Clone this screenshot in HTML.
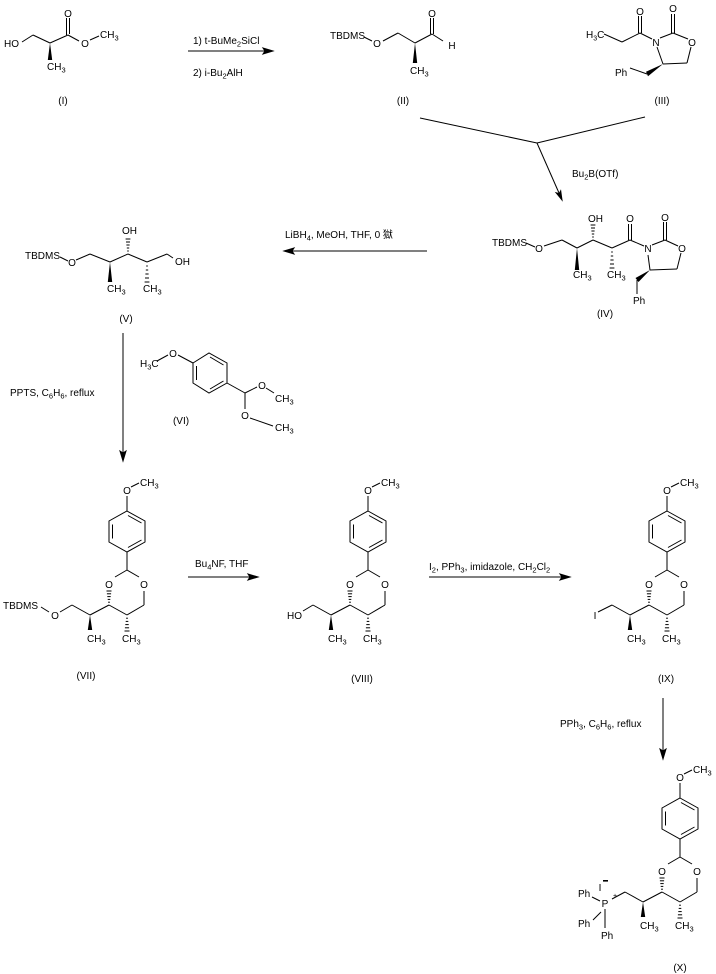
<!DOCTYPE html>
<html><head><meta charset="utf-8"><style>
html,body{margin:0;padding:0;background:#fff;}
svg{display:block;}
text{font-family:"Liberation Sans","Noto Sans CJK SC",sans-serif;font-size:10px;fill:#000;}
.s{font-size:7.5px;}
</style></head><body>
<svg width="716" height="974" viewBox="0 0 716 974" xmlns="http://www.w3.org/2000/svg">
<defs>
<g id="diox" stroke="#000" stroke-width="1" fill="none">
<line x1="0" y1="-15" x2="0" y2="0"/>
<line x1="4" y1="-24" x2="12" y2="-28"/>
<polygon points="0,0 18,10 18,31 0,41 -18,31 -18,10"/>
<line x1="1" y1="4.5" x2="14.5" y2="12"/>
<line x1="14.5" y1="29" x2="1" y2="36.5"/>
<line x1="-14.5" y1="13.5" x2="-14.5" y2="27.5"/>
<line x1="0" y1="41" x2="0" y2="59"/>
<line x1="0" y1="59" x2="-12" y2="66"/>
<line x1="0" y1="59" x2="12" y2="66"/>
<line x1="-18.9" y1="91.2" x2="-17.1" y2="91.2"/>
<line x1="-19.3" y1="88.4" x2="-16.7" y2="88.4"/>
<line x1="-19.7" y1="85.6" x2="-16.3" y2="85.6"/>
<line x1="-20.1" y1="82.8" x2="-15.9" y2="82.8"/>
<line x1="-20.5" y1="80" x2="-15.5" y2="80"/>
<line x1="-18" y1="94" x2="0" y2="104"/>
<line x1="0" y1="104" x2="17" y2="94"/>
<line x1="17" y1="94" x2="17" y2="80"/>
<line x1="-0.9" y1="107.2" x2="0.9" y2="107.2"/>
<line x1="-1.3" y1="110.4" x2="1.3" y2="110.4"/>
<line x1="-1.7" y1="113.6" x2="1.7" y2="113.6"/>
<line x1="-2.1" y1="116.8" x2="2.1" y2="116.8"/>
<line x1="-2.5" y1="120" x2="2.5" y2="120"/>
<line x1="-18" y1="94" x2="-37" y2="104"/>
<line x1="-37" y1="104" x2="-55" y2="94"/>
<polygon points="-37,104 -39.2,119 -34.8,119" fill="#000" stroke="none"/>
<text x="0" y="-17" text-anchor="middle" stroke="none">O</text>
<text x="13" y="-25" stroke="none">CH<tspan class="s" dy="2.5">3</tspan></text>
<text x="-18" y="77" text-anchor="middle" stroke="none">O</text>
<text x="17" y="77" text-anchor="middle" stroke="none">O</text>
<text x="-5" y="131" stroke="none">CH<tspan class="s" dy="2.5">3</tspan></text>
<text x="-40" y="131" stroke="none">CH<tspan class="s" dy="2.5">3</tspan></text>
</g>
</defs>

<g stroke="#000" stroke-width="1" fill="none">
<!-- Compound I -->
<line x1="22" y1="42" x2="33" y2="35"/>
<line x1="33" y1="35" x2="50" y2="43"/>
<line x1="50" y1="43" x2="68" y2="35"/>
<line x1="66.5" y1="35" x2="66.5" y2="18"/>
<line x1="69.5" y1="34" x2="69.5" y2="18"/>
<line x1="68" y1="35" x2="79" y2="41"/>
<line x1="90" y1="40" x2="99" y2="36"/>
<polygon points="50,43 47.8,60 52.2,60" fill="#000" stroke="none"/>

<!-- Arrow 1 -->
<line x1="188" y1="51" x2="266" y2="51"/>
<polygon points="273,51 263,48 265,51 263,54" fill="#000"/>

<!-- Compound II -->
<line x1="364" y1="37" x2="372" y2="41"/>
<line x1="383" y1="41" x2="398" y2="33"/>
<line x1="398" y1="33" x2="415" y2="43"/>
<line x1="415" y1="43" x2="432" y2="34"/>
<line x1="430.5" y1="34" x2="430.5" y2="18"/>
<line x1="433.5" y1="34" x2="433.5" y2="18"/>
<line x1="432" y1="34" x2="443" y2="41"/>
<polygon points="415,43 412.8,63 417.2,63" fill="#000" stroke="none"/>

<!-- Compound III -->
<line x1="604" y1="34" x2="622" y2="42"/>
<line x1="622" y1="42" x2="640" y2="33"/>
<line x1="638.5" y1="33" x2="638.5" y2="16"/>
<line x1="641.5" y1="33" x2="641.5" y2="16"/>
<line x1="640" y1="33" x2="652" y2="39"/>
<line x1="660" y1="38" x2="673" y2="33"/>
<line x1="671.5" y1="33" x2="671.5" y2="14"/>
<line x1="674.5" y1="33" x2="674.5" y2="14"/>
<line x1="673" y1="33" x2="688" y2="39"/>
<line x1="691" y1="47" x2="687" y2="63"/>
<line x1="687" y1="63" x2="663" y2="64"/>
<line x1="663" y1="64" x2="657" y2="47"/>
<polygon points="663,64 646,71.8 648,76.2" fill="#000" stroke="none"/>
<line x1="647" y1="74" x2="630" y2="68"/>

<!-- merge lines + arrow -->
<line x1="420" y1="118" x2="537" y2="143"/>
<line x1="645" y1="117" x2="537" y2="143"/>
<line x1="537" y1="143" x2="559" y2="193"/>
<polygon points="562,200 560.7,190.8 559.2,193.6 556.1,192.8" fill="#000"/>

<!-- Compound IV -->
<line x1="526" y1="243" x2="535" y2="247"/>
<line x1="544" y1="246" x2="562" y2="240"/>
<line x1="562" y1="240" x2="577" y2="248"/>
<polygon points="577,248 574.8,270 579.2,270" fill="#000" stroke="none"/>
<line x1="577" y1="248" x2="593" y2="240"/>
<line x1="592.2" y1="237" x2="593.8" y2="237"/>
<line x1="591.8" y1="234" x2="594.2" y2="234"/>
<line x1="591.4" y1="231" x2="594.6" y2="231"/>
<line x1="591" y1="228" x2="595" y2="228"/>
<line x1="590.6" y1="225" x2="595.4" y2="225"/>
<line x1="593" y1="240" x2="612" y2="248"/>
<line x1="611.2" y1="252" x2="612.8" y2="252"/>
<line x1="610.8" y1="256" x2="613.2" y2="256"/>
<line x1="610.4" y1="260" x2="613.6" y2="260"/>
<line x1="610" y1="264" x2="614" y2="264"/>
<line x1="609.6" y1="268" x2="614.4" y2="268"/>
<line x1="612" y1="248" x2="630" y2="240"/>
<line x1="628.5" y1="240" x2="628.5" y2="224"/>
<line x1="631.5" y1="240" x2="631.5" y2="224"/>
<line x1="630" y1="240" x2="644" y2="246"/>
<line x1="652" y1="245" x2="665" y2="240"/>
<line x1="663.5" y1="240" x2="663.5" y2="222"/>
<line x1="666.5" y1="240" x2="666.5" y2="222"/>
<line x1="665" y1="240" x2="678" y2="246"/>
<line x1="681" y1="253" x2="677" y2="269"/>
<line x1="677" y1="269" x2="650" y2="270"/>
<line x1="650" y1="270" x2="648" y2="255"/>
<polygon points="650,270 635.5,278 638.5,282" fill="#000" stroke="none"/>
<line x1="637" y1="280" x2="637" y2="294"/>

<!-- Arrow IV -> V -->
<line x1="291" y1="251" x2="427" y2="251"/>
<polygon points="284,251 294,248 292,251 294,254" fill="#000"/>

<!-- Compound V -->
<line x1="60" y1="257" x2="68" y2="261"/>
<line x1="76" y1="260" x2="90" y2="254"/>
<line x1="90" y1="254" x2="110" y2="262"/>
<polygon points="110,262 107.8,282 112.2,282" fill="#000" stroke="none"/>
<line x1="110" y1="262" x2="128" y2="254"/>
<line x1="127.2" y1="251" x2="128.8" y2="251"/>
<line x1="126.8" y1="248" x2="129.2" y2="248"/>
<line x1="126.4" y1="245" x2="129.6" y2="245"/>
<line x1="126" y1="242" x2="130" y2="242"/>
<line x1="125.6" y1="239" x2="130.4" y2="239"/>
<line x1="128" y1="254" x2="147" y2="262"/>
<line x1="146.2" y1="266" x2="147.8" y2="266"/>
<line x1="145.8" y1="270" x2="148.2" y2="270"/>
<line x1="145.4" y1="274" x2="148.6" y2="274"/>
<line x1="145" y1="278" x2="149" y2="278"/>
<line x1="144.6" y1="282" x2="149.4" y2="282"/>
<line x1="147" y1="262" x2="167" y2="254"/>
<line x1="167" y1="254" x2="173" y2="258"/>

<!-- Arrow V -> VII -->
<line x1="123" y1="333" x2="123" y2="453"/>
<polygon points="123,461 120,451 123,453 126,451" fill="#000"/>

<!-- Compound VI -->
<line x1="157" y1="361" x2="168" y2="355"/>
<line x1="178" y1="355" x2="193" y2="363"/>
<polygon points="193,363 209,353 227,363 227,383 209,393 193,383"/>
<line x1="196.5" y1="366" x2="196.5" y2="380"/>
<line x1="210" y1="357" x2="223.5" y2="365"/>
<line x1="223.5" y1="381" x2="210" y2="389"/>
<line x1="227" y1="383" x2="245" y2="393"/>
<line x1="245" y1="393" x2="257" y2="387"/>
<line x1="266" y1="388" x2="274" y2="393"/>
<line x1="245" y1="393" x2="245" y2="409"/>
<line x1="250" y1="418" x2="273" y2="426"/>

<!-- Arrow VII -> VIII -->
<line x1="188" y1="577" x2="251" y2="577"/>
<polygon points="258,577 248,574 250,577 248,580" fill="#000"/>

<!-- Arrow VIII -> IX -->
<line x1="429" y1="577" x2="563" y2="577"/>
<polygon points="570,577 560,574 562,577 560,580" fill="#000"/>

<!-- Arrow IX -> X -->
<line x1="663" y1="698" x2="663" y2="751"/>
<polygon points="663,759 660,749 663,751 666,749" fill="#000"/>

<!-- substituents on dioxanes -->
<line x1="72" y1="605" x2="60" y2="612"/>
<line x1="49" y1="612" x2="41" y2="607"/>
<line x1="313" y1="605" x2="303" y2="611"/>
<line x1="612" y1="605" x2="598" y2="612"/>
<line x1="625" y1="892" x2="612" y2="899"/>
<line x1="592" y1="897" x2="600" y2="901"/>
<line x1="593" y1="920" x2="601" y2="912"/>
<line x1="605" y1="909" x2="605" y2="928"/>
</g>
<rect x="603" y="880" width="5" height="1.6" fill="#000"/>

<use href="#diox" x="127" y="511"/>
<use href="#diox" x="368" y="511"/>
<use href="#diox" x="667" y="511"/>
<use href="#diox" x="680" y="798"/>

<!-- Texts -->
<text x="4" y="47">HO</text>
<text x="68" y="17" text-anchor="middle">O</text>
<text x="85" y="47" text-anchor="middle">O</text>
<text x="100" y="38">CH<tspan class="s" dy="2.5">3</tspan></text>
<text x="47" y="70">CH<tspan class="s" dy="2.5">3</tspan></text>
<text x="63" y="104" text-anchor="middle">(I)</text>

<text x="193" y="44">1) t-BuMe<tspan class="s" dy="2.5">2</tspan><tspan dy="-2.5">SiCl</tspan></text>
<text x="193" y="76">2) i-Bu<tspan class="s" dy="2.5">2</tspan><tspan dy="-2.5">AlH</tspan></text>

<text x="330" y="39">TBDMS</text>
<text x="377" y="47" text-anchor="middle">O</text>
<text x="432" y="17" text-anchor="middle">O</text>
<text x="452" y="49" text-anchor="middle">H</text>
<text x="410" y="74">CH<tspan class="s" dy="2.5">3</tspan></text>
<text x="403" y="104" text-anchor="middle">(II)</text>

<text x="586" y="38">H<tspan style="font-size:7px" dy="2.5">3</tspan><tspan dy="-2.5">C</tspan></text>
<text x="640" y="15" text-anchor="middle">O</text>
<text x="656" y="46" text-anchor="middle">N</text>
<text x="673" y="12" text-anchor="middle">O</text>
<text x="692" y="46" text-anchor="middle">O</text>
<text x="615" y="76">Ph</text>
<text x="662" y="104" text-anchor="middle">(III)</text>

<text x="572" y="177">Bu<tspan class="s" dy="2.5">2</tspan><tspan dy="-2.5">B(OTf)</tspan></text>

<text x="492" y="246">TBDMS</text>
<text x="539" y="252" text-anchor="middle">O</text>
<text x="573" y="278">CH<tspan class="s" dy="2.5">3</tspan></text>
<text x="588" y="222">OH</text>
<text x="607" y="278">CH<tspan class="s" dy="2.5">3</tspan></text>
<text x="630" y="222" text-anchor="middle">O</text>
<text x="648" y="252" text-anchor="middle">N</text>
<text x="665" y="221" text-anchor="middle">O</text>
<text x="682" y="252" text-anchor="middle">O</text>
<text x="633" y="304">Ph</text>
<text x="605" y="317" text-anchor="middle">(IV)</text>

<text x="285" y="238">LiBH<tspan class="s" dy="2.5">4</tspan><tspan dy="-2.5">, MeOH, THF, 0 獄</tspan></text>

<text x="25" y="259">TBDMS</text>
<text x="72" y="266" text-anchor="middle">O</text>
<text x="107" y="292">CH<tspan class="s" dy="2.5">3</tspan></text>
<text x="122" y="234">OH</text>
<text x="143" y="292">CH<tspan class="s" dy="2.5">3</tspan></text>
<text x="175" y="265">OH</text>
<text x="126" y="322" text-anchor="middle">(V)</text>

<text x="10" y="396">PPTS, C<tspan class="s" dy="2.5">6</tspan><tspan dy="-2.5">H</tspan><tspan class="s" dy="2.5">6</tspan><tspan dy="-2.5">, reflux</tspan></text>

<text x="140" y="367">H<tspan class="s" dy="2.5">3</tspan><tspan dy="-2.5">C</tspan></text>
<text x="173" y="357" text-anchor="middle">O</text>
<text x="262" y="389" text-anchor="middle">O</text>
<text x="275" y="402">CH<tspan class="s" dy="2.5">3</tspan></text>
<text x="245" y="419" text-anchor="middle">O</text>
<text x="275" y="431">CH<tspan class="s" dy="2.5">3</tspan></text>
<text x="181" y="424" text-anchor="middle">(VI)</text>

<text x="38" y="609" text-anchor="end">TBDMS</text>
<text x="55" y="619" text-anchor="middle">O</text>
<text x="86" y="679" text-anchor="middle">(VII)</text>

<text x="195" y="567">Bu<tspan class="s" dy="2.5">4</tspan><tspan dy="-2.5">NF, THF</tspan></text>

<text x="302" y="619" text-anchor="end">HO</text>
<text x="362" y="682" text-anchor="middle">(VIII)</text>

<text x="429" y="570">I<tspan class="s" dy="2.5">2</tspan><tspan dy="-2.5">, PPh</tspan><tspan class="s" dy="2.5">3</tspan><tspan dy="-2.5">, imidazole, CH</tspan><tspan class="s" dy="2.5">2</tspan><tspan dy="-2.5">Cl</tspan><tspan class="s" dy="2.5">2</tspan></text>

<text x="595" y="619" text-anchor="middle">I</text>
<text x="666" y="682" text-anchor="middle">(IX)</text>

<text x="560" y="727">PPh<tspan class="s" dy="2.5">3</tspan><tspan dy="-2.5">, C</tspan><tspan class="s" dy="2.5">6</tspan><tspan dy="-2.5">H</tspan><tspan class="s" dy="2.5">6</tspan><tspan dy="-2.5">, reflux</tspan></text>

<text x="600" y="891" text-anchor="middle">I</text>
<text x="605" y="907" text-anchor="middle">P</text>
<text x="613" y="898" style="font-size:7px">+</text>
<text x="578" y="897">Ph</text>
<text x="578" y="927">Ph</text>
<text x="601" y="939">Ph</text>
<text x="680" y="971" text-anchor="middle">(X)</text>
</svg>
</body></html>
